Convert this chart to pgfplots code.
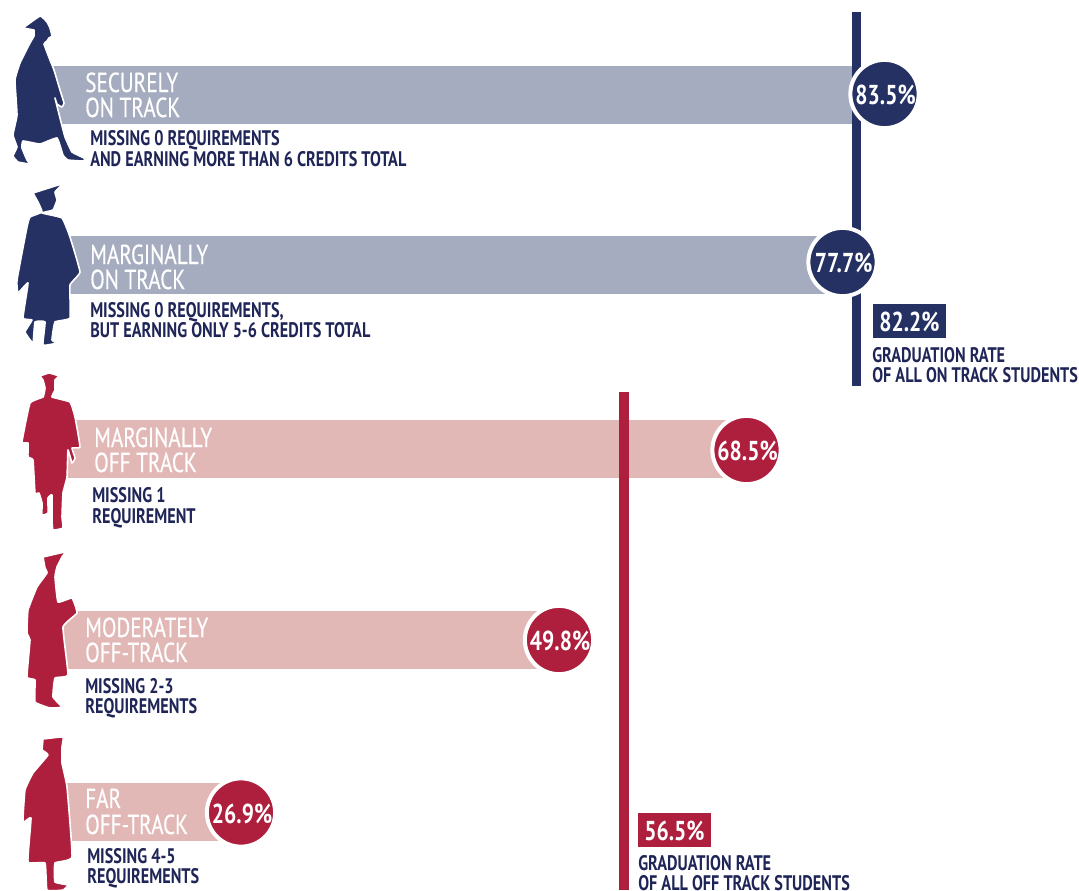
\documentclass[border=0pt]{standalone}
\usepackage{pgfplots}
\pgfplotsset{compat=1.18}
\usepackage{fontspec}
\setmainfont{PT Sans}
\newfontfamily\cond[FakeStretch=0.77,FakeBold=0.35]{PT Sans}
\newfontfamily\condb[FakeStretch=0.77]{PT Sans}
\newfontfamily\condr[FakeStretch=0.79]{PT Sans}
\definecolor{navy}{HTML}{253162}
\definecolor{navytxt}{HTML}{1F2557}
\definecolor{crim}{HTML}{AE1E3D}
\definecolor{navybar}{HTML}{A6ACBF}
\definecolor{crimbar}{HTML}{E2B8B6}
\newcommand{\bg}[3]{\node[anchor=base west,inner sep=0pt,text=white,font=\cond\fontsize{20.6}{21}\selectfont] at (axis cs:#1,#2) {#3};}
\newcommand{\sm}[3]{\node[anchor=base west,inner sep=0pt,text=navytxt,font=\condb\bfseries\fontsize{15.8}{16}\selectfont] at (axis cs:#1,#2) {#3};}
\newcommand{\rate}[3]{\node[anchor=center,inner sep=0pt,text=white,font=\condr\bfseries\fontsize{20.5}{20}\selectfont] at (axis cs:#1,#2) {#3};}
\pgfplotsset{
  fig/.style={fill=#1,draw=white,line width=1.2pt,line join=round,smooth,tension=0.2},
  ratecircle/.style={only marks,mark=*,mark size=25.6pt,
    mark options={fill=#1,draw=white,line width=3pt},
    point meta=explicit symbolic,nodes near coords,
    every node near coord/.append style={anchor=center,inner sep=0pt,text=white,yshift=-1pt,xshift=0.8pt,
      font=\condr\bfseries\fontsize{20.5}{20}\selectfont}}
}
\begin{document}
\begin{tikzpicture}[x=1pt,y=1pt]
\path[use as bounding box] (0,0) rectangle (809.25,667.5);
\clip (0,0) rectangle (809.25,667.5);
\begin{axis}[at={(0,0)},anchor=south west,scale only axis,width=809.25pt,height=667.5pt,
  xmin=0,xmax=1079,ymin=0,ymax=890,y dir=reverse,hide axis,clip=false]
% bars
\addplot[fill=navybar,draw=none] coordinates {(53,66)(853,66)(853,124)(53,124)} --cycle;
\addplot[fill=navybar,draw=none] coordinates {(70,236)(830,236)(830,294)(70,294)} --cycle;
\addplot[fill=crimbar,draw=none] coordinates {(66,420)(730,420)(730,478)(66,478)} --cycle;
\addplot[fill=crimbar,draw=none] coordinates {(64,611)(540,611)(540,669)(64,669)} --cycle;
\addplot[fill=crimbar,draw=none] coordinates {(66,783)(225,783)(225,841)(66,841)} --cycle;
% group-rate lines
\addplot[fill=navy,draw=none] coordinates {(852,12)(861,12)(861,386)(852,386)} --cycle;
\addplot[fill=crim,draw=none] coordinates {(619,392)(629,392)(629,890)(619,890)} --cycle;
% silhouettes
\addplot[fig=navy] coordinates {(23,28)(40,16)(47,22)(50,28)(52,36)(49,38)(47,41)(44,44)(50,60)(54,70)(60,90)(64,103)(62,107)(57,104)(55,98)(60,118)(65,137)(72,152)(84,158)(84,161)(68,160)(63,155)(57,138)(40,144)(23,141)(22,148)(27,160)(30,164)(18,162)(13,156)(17,147)(13,135)(17,115)(15,80)(20,63)(30,43)(34,36)(34,30)} --cycle;
\addplot[fig=navy] coordinates {(33,193)(62,184)(55,192)(57,200)(53,210)(42,213)(62,218)(70,237)(80,272)(70,285)(70,318)(55,322)(52,340)(57,343)(43,345)(45,322)(35,322)(33,343)(25,332)(32,320)(23,318)(28,283)(18,293)(17,280)(27,227)(30,217)(42,212)(38,202)} --cycle;
\addplot[fig=crim] coordinates {(40,376)(49,373)(59,376)(55,380)(55,390)(52,397)(70,402)(75,417)(80,447)(72,448)(75,458)(72,463)(68,450)(67,477)(63,493)(62,517)(63,528)(53,530)(52,520)(52,495)(48,498)(48,513)(42,515)(42,503)(39,493)(35,493)(33,460)(28,457)(28,443)(22,442)(30,403)(43,397)(45,388)(43,380)} --cycle;
\addplot[fig=crim] coordinates {(43,557)(65,552)(62,557)(57,567)(55,577)(58,602)(72,598)(77,613)(63,627)(68,675)(55,678)(53,697)(62,707)(50,708)(35,702)(35,680)(27,677)(30,640)(27,633)(28,610)(37,587)(47,573)(45,568)} --cycle;
\addplot[fig=crim] coordinates {(43,739)(63,737)(62,747)(62,763)(67,787)(72,857)(55,863)(55,882)(68,885)(63,890)(47,890)(45,863)(28,862)(31,818)(23,822)(25,790)(33,773)(48,755)(42,750)} --cycle;
% boxes
\addplot[fill=navy,draw=none] coordinates {(873,304)(946,304)(946,338)(873,338)} --cycle;
\addplot[fill=crim,draw=none] coordinates {(638,813)(711,813)(711,847)(638,847)} --cycle;
\rate{909.5}{322}{82.2\%}
\rate{674.5}{831}{56.5\%}
% rate circles
\addplot[ratecircle=navy] coordinates {(884.5,94)[83.5\%] (842.5,262)[77.7\%]};
\addplot[ratecircle=crim] coordinates {(746.5,450)[68.5\%] (559,640)[49.8\%] (241,812.5)[26.9\%]};
% labels
\bg{85}{92}{SECURELY}\bg{85}{117}{ON TRACK}
\sm{90}{145}{MISSING 0 REQUIREMENTS}\sm{90}{166}{AND EARNING MORE THAN 6 CREDITS TOTAL}
\bg{90}{264}{MARGINALLY}\bg{90}{289}{ON TRACK}
\sm{90}{317}{MISSING 0 REQUIREMENTS,}\sm{90}{337}{BUT EARNING ONLY 5-6 CREDITS TOTAL}
\bg{94}{447}{MARGINALLY}\bg{94}{472}{OFF TRACK}
\sm{92}{502}{MISSING 1}\sm{92}{523}{REQUIREMENT}
\bg{85}{637}{MODERATELY}\bg{85}{662}{OFF-TRACK}
\sm{85}{693}{MISSING 2-3}\sm{85}{713}{REQUIREMENTS}
\bg{85}{808}{FAR}\bg{85}{834}{OFF-TRACK}
\sm{87}{863}{MISSING 4-5}\sm{87}{883}{REQUIREMENTS}
\sm{872}{362}{GRADUATION RATE}\sm{872}{382}{OF ALL ON TRACK STUDENTS}
\sm{638}{870}{GRADUATION RATE}\sm{638}{890}{OF ALL OFF TRACK STUDENTS}
\end{axis}
\end{tikzpicture}
\end{document}
